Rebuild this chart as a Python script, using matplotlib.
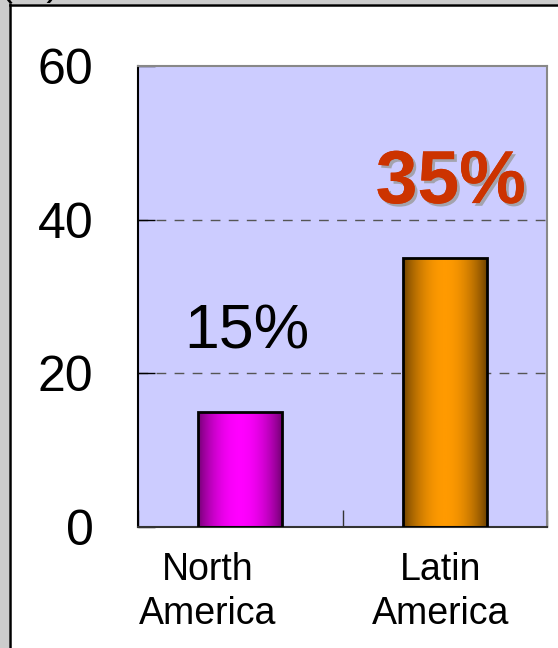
import numpy as np
import matplotlib.pyplot as plt
from matplotlib.colors import LinearSegmentedColormap
from matplotlib.patches import Rectangle
import matplotlib.patheffects as pe

plt.rcParams['font.family'] = ['Liberation Sans', 'DejaVu Sans']

regions = ["North\nAmerica", "Latin\nAmerica"]
shares = [15, 35]
share_labels = ["15%", "35%"]
bar_dark = ["#700070", "#6b4000"]
bar_light = ["#ff00ff", "#ff9a00"]
y_ticks = [0, 20, 40, 60]

fig = plt.figure(figsize=(5.58, 6.48), dpi=100)

# frame around the slide panel
fig.patches.append(Rectangle((0, 0), 9 / 558, 1, transform=fig.transFigure,
                             facecolor="#cccccc", edgecolor="none", zorder=0))
fig.patches.append(Rectangle((0, 1 - 4 / 648), 1, 4 / 648, transform=fig.transFigure,
                             facecolor="#cccccc", edgecolor="none", zorder=0))
fig.add_artist(plt.Line2D([9.5 / 558, 9.5 / 558], [0, 1 - 4 / 648], color="black", lw=1.8))
fig.add_artist(plt.Line2D([9.5 / 558, 1], [1 - 5 / 648, 1 - 5 / 648], color="black", lw=1.8))
fig.text(0.0, 1 + 5 / 648, "(%)", fontsize=28, va="baseline", ha="left")

ax = fig.add_axes([138 / 558, 121 / 648, 409 / 558, 461 / 648])
ax.set_facecolor("#ccccff")
ax.set_xlim(-0.5, 1.5)
ax.set_ylim(0, 60)

for y in y_ticks[1:-1]:
    ax.axhline(y, color="#555555", lw=1, ls=(0, (7, 6)), zorder=1)

width = 0.41
x = np.arange(len(regions))
t = np.linspace(0, 1, 256)
shade = np.sin(np.pi * t) ** 0.8
for xi, h, dark, light in zip(x, shares, bar_dark, bar_light):
    cmap = LinearSegmentedColormap.from_list("cyl", [dark, light])
    left = xi - width / 2
    im = ax.imshow(shade[np.newaxis, :], cmap=cmap, aspect="auto",
                   extent=(left, left + width, 0, h), zorder=2, vmin=0, vmax=1)
    rect = Rectangle((left, 0), width, h, facecolor="none", edgecolor="black",
                     lw=2, zorder=3)
    ax.add_patch(rect)
    im.set_clip_path(rect)

ax.text(x[0] + 0.03, 25.4, share_labels[0], fontsize=45, ha="center", va="center",
        color="black", zorder=4)
ax.text(x[1] + 0.03, 44.7, share_labels[1], fontsize=54, fontweight="bold",
        ha="center", va="center", color="#cc3300", zorder=4,
        path_effects=[pe.withSimplePatchShadow(offset=(2, -2), shadow_rgbFace="#999999",
                                               alpha=0.8), pe.Normal()])

ax.set_yticks(y_ticks)
ax.set_yticklabels([str(v) for v in y_ticks])
ax.tick_params(axis="y", direction="in", length=12, width=1, pad=32, labelsize=36)

ax.set_xticks([-0.5, 0.5, 1.5])
ax.set_xticklabels([])
ax.tick_params(axis="x", direction="in", length=12, width=1, color="#333333")
for xi, off, lab in zip(x, [-0.16, -0.02], regions):
    ax.text(xi + off, -3.2, lab, fontsize=27, ha="center", va="top",
            linespacing=1.3, clip_on=False)

ax.spines["left"].set_color("black")
ax.spines["left"].set_linewidth(1.5)
ax.spines["bottom"].set_color("#333333")
ax.spines["bottom"].set_linewidth(1.5)
ax.spines["top"].set_color("#888888")
ax.spines["top"].set_linewidth(1.5)
ax.spines["right"].set_color("#888888")
ax.spines["right"].set_linewidth(1.5)

fig.savefig("out.png", dpi=100)
